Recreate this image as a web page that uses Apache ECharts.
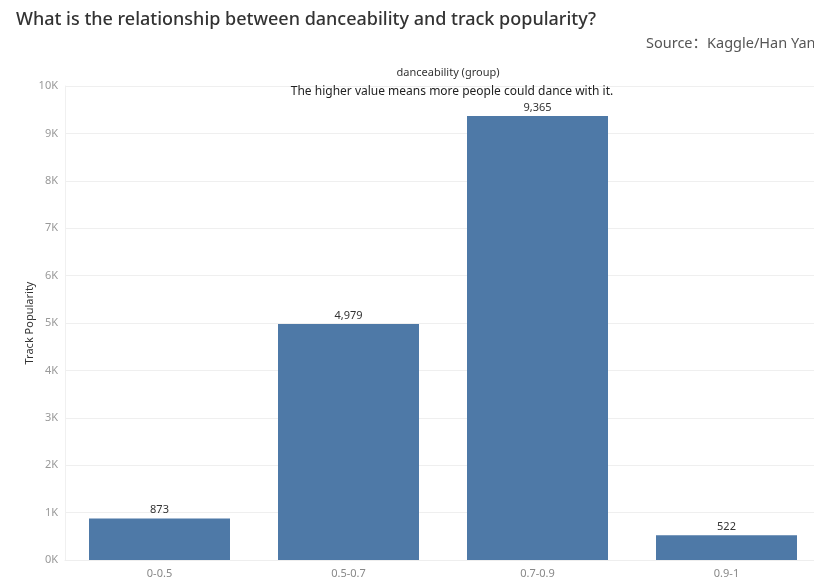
<!DOCTYPE html>
<html>
<head>
<meta charset="utf-8">
<script src="https://cdn.jsdelivr.net/npm/echarts@6/dist/echarts.min.js"></script>
<style>
  html, body { margin: 0; padding: 0; background: #fff; }
  #chart { width: 814px; height: 583px; }
</style>
</head>
<body>
<div id="chart"></div>
<script>
// Danceability groups and their summed track popularity
const categories = ['0-0.5', '0.5-0.7', '0.7-0.9', '0.9-1'];
const popularity = [873, 4979, 9365, 522];
const yTicks = [0, 1000, 2000, 3000, 4000, 5000, 6000, 7000, 8000, 9000, 10000];

const font = '"Noto Sans", "Open Sans", sans-serif';
const chart = echarts.init(document.getElementById('chart'), null, { renderer: 'canvas' });

chart.setOption({
  backgroundColor: '#ffffff',
  animation: false,
  textStyle: { fontFamily: font },
  title: [
    {
      text: 'What is the relationship between danceability and track popularity?',
      left: 11, top: 6,
      textStyle: { fontFamily: font, fontSize: 18, fontWeight: 500, color: '#333333' }
    },
    {
      text: 'Source\uFF1AKaggle/Han Yang',
      left: 641, top: 32,
      textStyle: { fontFamily: '"Noto Sans", "Noto Sans CJK SC", sans-serif', fontSize: 14.5, fontWeight: 'normal', color: '#555555' }
    },
    {
      text: 'danceability (group)',
      left: 443, top: 62, textAlign: 'center',
      textStyle: { fontFamily: font, fontSize: 11, fontWeight: 'normal', color: '#333333' }
    },
    {
      text: 'The higher value means more people could dance with it.',
      left: 447, top: 81, textAlign: 'center',
      textStyle: { fontFamily: font, fontSize: 12, fontWeight: 'normal', color: '#222222' }
    }
  ],
  grid: { left: 65, top: 86, width: 756, height: 474, containLabel: false, outerBoundsMode: 'none' },
  xAxis: {
    type: 'category',
    data: categories,
    axisLine: { show: true, lineStyle: { color: '#eeeeee' } },
    axisTick: { show: false },
    axisLabel: { color: '#888888', fontSize: 11, margin: 8, fontFamily: font }
  },
  yAxis: {
    type: 'value',
    min: yTicks[0],
    max: yTicks[yTicks.length - 1],
    interval: 1000,
    name: 'Track Popularity',
    nameLocation: 'middle',
    nameGap: 30,
    nameMoveOverlap: false,
    nameTextStyle: { color: '#333333', fontSize: 11, fontFamily: font },
    axisLine: { show: true, lineStyle: { color: '#f0f0f0' } },
    axisTick: { show: false },
    axisLabel: {
      color: '#999999', fontSize: 11, margin: 7, fontFamily: font,
      formatter: v => (v / 1000) + 'K'
    },
    splitLine: { lineStyle: { color: '#efefef', width: 1 } }
  },
  series: [{
    type: 'bar',
    data: popularity,
    barWidth: 141,
    itemStyle: { color: '#4e79a7' },
    label: {
      show: true,
      position: 'top',
      distance: 3,
      color: '#333333',
      fontSize: 11,
      fontFamily: font,
      formatter: p => p.value.toLocaleString('en-US')
    }
  }]
});
</script>
</body>
</html>
